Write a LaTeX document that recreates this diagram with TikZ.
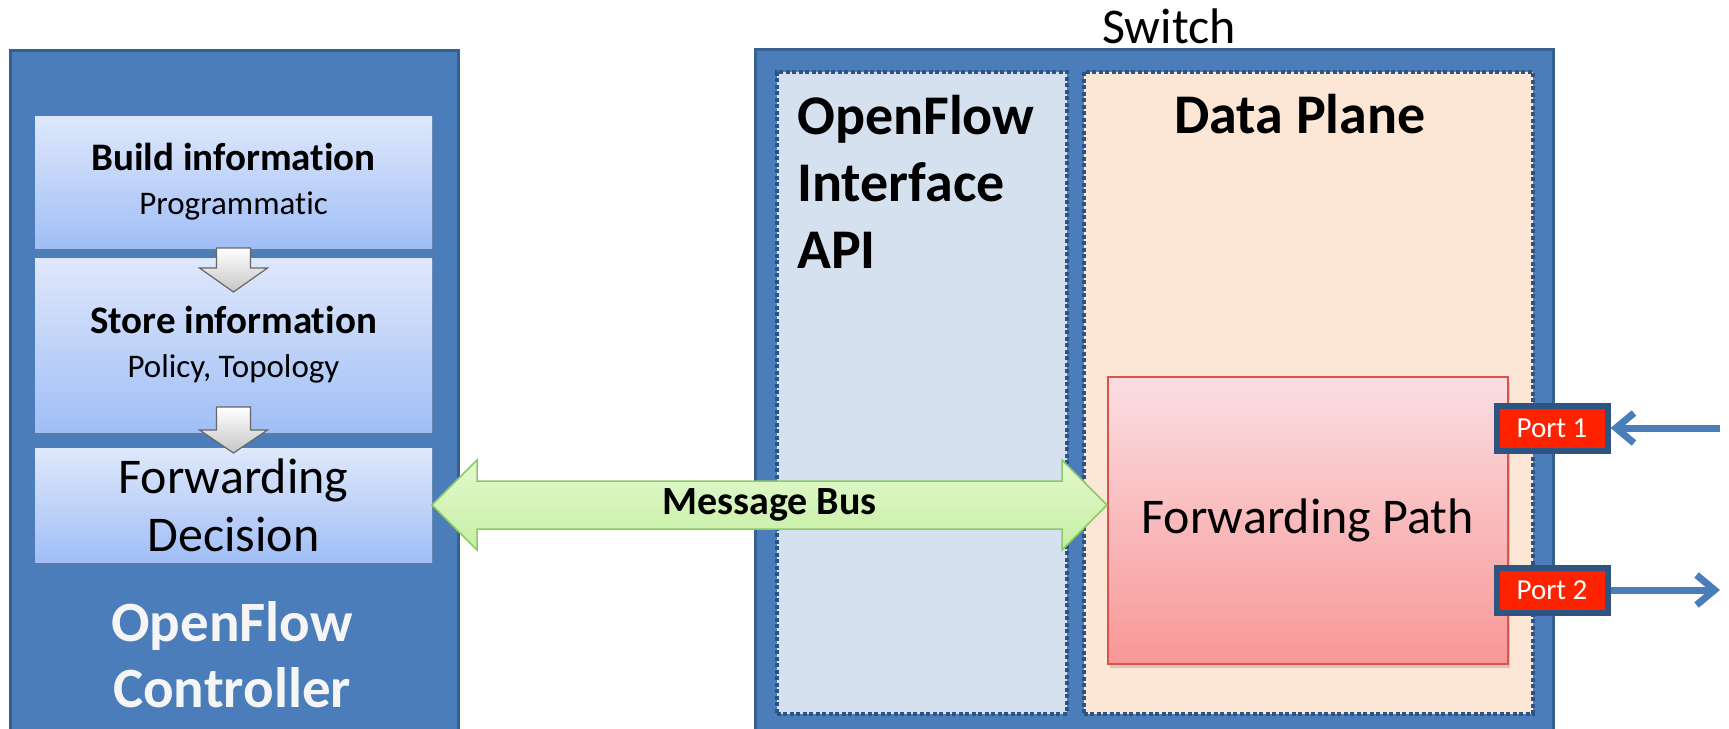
\documentclass[tikz,border=0pt]{standalone}
\usepackage{fontspec}
\setmainfont{Carlito}[Ligatures=NoCommon]
\usetikzlibrary{positioning, calc, shadows, arrows.meta}

\definecolor{boxblue}{HTML}{4A7DBA}
\definecolor{edgeblue}{HTML}{35608F}
\definecolor{steptop}{HTML}{DFE8FB}
\definecolor{stepbot}{HTML}{A0BEF6}
\definecolor{apifill}{HTML}{D5E1EE}
\definecolor{planefill}{HTML}{FCE6D5}
\definecolor{dotblue}{HTML}{2B5485}
\definecolor{pathtop}{HTML}{FADEE2}
\definecolor{pathbot}{HTML}{F99797}
\definecolor{pathedge}{HTML}{D9534F}
\definecolor{portred}{HTML}{FF2200}
\definecolor{portedge}{HTML}{2E5582}
\definecolor{linkblue}{HTML}{4A7EBB}
\definecolor{bustop}{HTML}{E2F9CE}
\definecolor{busbot}{HTML}{C6EEA3}
\definecolor{busedge}{HTML}{8CCB63}

\begin{document}
\begin{tikzpicture}[x=1pt, y=-1pt,
	outerbox/.style={draw=edgeblue, line width=3pt, fill=boxblue, inner sep=0pt, outer sep=0pt, anchor=north west},
	stepbox/.style={top color=steptop, bottom color=stepbot, minimum width=397pt, inner sep=0pt, outer sep=0pt, align=center,
		drop shadow={opacity=0.35, shadow xshift=1pt, shadow yshift=-3pt}},
	innerbox/.style={draw=dotblue, line width=3.5pt, dash pattern=on 4pt off 2.5pt, inner sep=0pt, anchor=north west},
	port/.style={draw=portedge, fill=portred, line width=6pt, minimum width=111pt, minimum height=45pt, inner sep=0pt,
		text=white, font=\fontsize{29}{34}\selectfont},
	grayarrow/.style={draw=gray!80!black, line width=1.2pt, top color=white, bottom color=gray!45},
	busarrow/.style={draw=busedge, line width=1.5pt, top color=bustop, bottom color=busbot},
	link/.style={draw=linkblue, line width=7pt, -{Straight Barb[length=18pt, width=30pt]}}
]
	\useasboundingbox (0,0) rectangle (1729,728);
	\clip (0,0) rectangle (1729,728);

	% controller
	\node[outerbox, minimum width=448pt, minimum height=700pt] (ctrl) at (10,50) {};
	\node[stepbox, minimum height=132pt, anchor=north west, font=\fontsize{33}{44}\selectfont] (build) at (35,116)
		{{\fontsize{39}{44}\selectfont\bfseries Build information}\\Programmatic};
	\node[stepbox, minimum height=174pt, below=10pt of build, font=\fontsize{33}{44}\selectfont] (store)
		{{\fontsize{39}{44}\selectfont\bfseries Store information}\\Policy, Topology};
	\node[stepbox, minimum height=114pt, below=16pt of store, font=\fontsize{50}{58}\selectfont] (fd)
		{Forwarding\\Decision};
	\node[font=\fontsize{57}{66}\selectfont\bfseries, text=gray!8, align=center] (ctrlname) at (232,655)
		{OpenFlow\\Controller};

	\draw[grayarrow] (build.south) ++(-17,0) -- ++(0,20) -- ++(-17,0) -- ++(34,24) -- ++(34,-24) -- ++(-17,0) -- ++(0,-20) -- cycle;
	\draw[grayarrow] (store.south) ++(-17,-25) -- ++(0,23) -- ++(-17,0) -- ++(34,23) -- ++(34,-23) -- ++(-17,0) -- ++(0,-23) -- cycle;

	% switch
	\node[outerbox, minimum width=798pt, minimum height=700pt] (sw) at (755,49) {};
	\node[font=\fontsize{50}{60}\selectfont, anchor=base] (swname) at (1169,43) {Switch};
	\node[innerbox, fill=apifill, minimum width=290pt, minimum height=642pt] (api) at (775,70) {};
	\node[innerbox, fill=planefill, minimum width=449pt, minimum height=642pt] (plane) at (1082,70) {};
	\node[anchor=north west, align=left, inner sep=0pt, font=\fontsize{56}{67}\selectfont\bfseries] (apiname) at (797,95)
		{OpenFlow\\Interface\\API};
	\node[anchor=base, font=\fontsize{56}{66}\selectfont\bfseries] (planename) at (1300,133) {Data Plane};

	\node[draw=pathedge, line width=1.5pt, top color=pathtop, bottom color=pathbot, minimum width=400pt, minimum height=287pt,
		anchor=north west, font=\fontsize{50}{60}\selectfont,
		drop shadow={opacity=0.3, shadow xshift=2pt, shadow yshift=-4pt}] (fwdpath) at (1107,376) {Forwarding Path};

	\node[port] (p1) at (1552,428) {Port 1};
	\node[port, below=111pt of p1] (p2) {Port 2};
	\coordinate (in1) at (1720,428);
	\coordinate (out2) at (1720,590);
	\draw[link] (in1) -- (p1);
	\draw[link] (p2) -- (out2);

	% message bus
	\draw[busarrow] (fd.east) -- ++(45,-45) -- ++(0,21) -- ($(fwdpath.west |- fd.east)+(-45,-24)$) -- ++(0,-21)
		-- (fwdpath.west |- fd.east) -- ++(-45,45) -- ++(0,-21) -- ($(fd.east)+(45,24)$) -- ++(0,21) -- cycle;
	\path (fd.east) -- (fwdpath.west |- fd.east) node[midway, font=\fontsize{40}{48}\selectfont\bfseries] (busname) {Message Bus};
\end{tikzpicture}
\end{document}
